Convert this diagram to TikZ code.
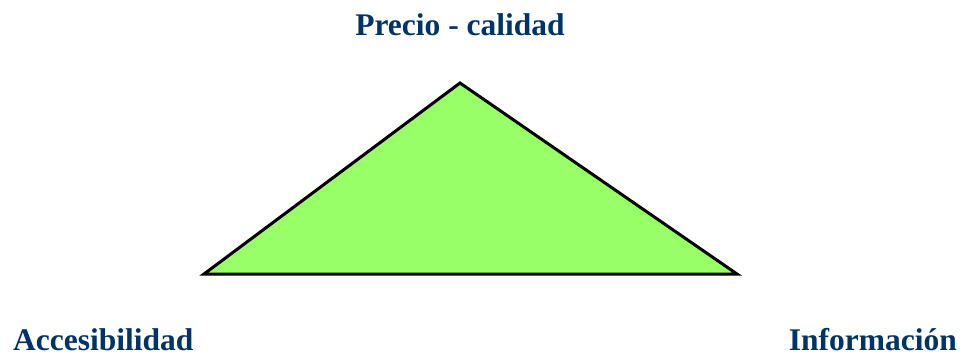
\documentclass[tikz,border=0pt]{standalone}
\usepackage{fontspec}
\setmainfont{Liberation Serif}
\definecolor{labelblue}{RGB}{0,51,102}
\definecolor{trifill}{RGB}{153,255,102}
\begin{document}
\begin{tikzpicture}[x=1pt,y=-1pt,
  lbl/.style={text=labelblue,font=\fontsize{31.5}{36}\selectfont\bfseries,inner sep=0pt,anchor=base},
  tri/.style={draw=black,fill=trifill,line width=3pt,line join=miter}]
\useasboundingbox (0,0) rectangle (974,356);
\coordinate (top) at (460,83);
\coordinate (bl) at (204,274);
\coordinate (br) at (737,274);
\filldraw[tri] (top) -- (br) -- (bl) -- cycle;
\node[lbl] (precio) at (460,35) {Precio - calidad};
\node[lbl,anchor=base west] (acc) at (13,350) {Accesibilidad};
\node[lbl,anchor=base east] (info) at (957,350) {Información};
\end{tikzpicture}
\end{document}
